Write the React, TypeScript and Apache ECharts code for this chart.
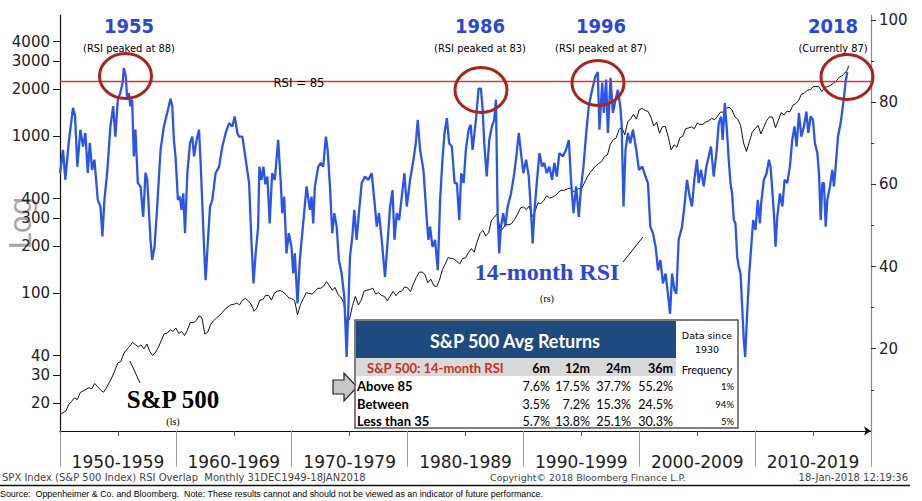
import React, { useEffect, useRef } from 'react';
import * as echarts from 'echarts';

// ---------- Data ----------
const DECADE_LABELS = ['1950-1959', '1960-1969', '1970-1979', '1980-1989', '1990-1999', '2000-2009', '2010-2019'];
const DECADE_CENTERS = [1955, 1965, 1975, 1985, 1995, 2005, 2015];
const DECADE_BOUNDS = [1950, 1960, 1970, 1980, 1990, 2000, 2010, 2020];
const LEFT_TICKS = [20, 30, 40, 100, 200, 300, 400, 1000, 2000, 3000, 4000];
const RIGHT_TICKS = [20, 40, 60, 80, 100];
const RIGHT_MINOR_TICKS = [10, 30, 50, 70, 90];
const RSI_THRESHOLD = 85;

// S&P 500 quarterly closes (start of decade, step 0.25 yr)
const SPX_1950S = [16.76, 17.29, 17.69, 19.45, 20.41, 21.48, 20.96, 23.26, 23.77, 24.37, 24.96, 24.54, 26.57, 25.29, 24.14, 23.35, 24.81, 26.94, 29.21, 32.31, 35.98, 36.58, 41.03, 43.67, 45.48, 48.48, 46.97, 45.35, 46.67, 44.11, 47.37, 42.42, 39.99, 42.10, 45.24, 50.06, 55.21, 55.44, 58.47, 56.88];
const SPX_1960S = [59.89, 55.34, 56.92, 53.52, 58.11, 65.06, 64.64, 66.73, 71.55, 69.55, 54.75, 56.27, 63.10, 66.57, 69.37, 71.70, 75.02, 78.98, 81.69, 84.18, 84.75, 86.16, 84.12, 89.96, 92.43, 89.23, 84.74, 76.56, 80.33, 90.20, 90.64, 96.71, 96.47, 90.20, 99.58, 102.67, 103.86, 101.51, 97.71, 93.12];
const SPX_1970S = [92.06, 89.63, 72.72, 84.21, 92.15, 100.31, 99.70, 98.34, 102.09, 107.20, 107.14, 110.55, 118.05, 111.52, 104.26, 108.43, 97.55, 93.98, 86.00, 63.54, 68.56, 83.36, 95.19, 83.87, 90.19, 102.77, 104.28, 105.24, 107.46, 98.42, 100.48, 96.53, 95.10, 89.21, 95.53, 102.54, 96.11, 101.59, 102.91, 109.32];
const SPX_1980S = [107.94, 102.09, 114.24, 125.46, 135.76, 136.00, 131.21, 116.18, 122.55, 111.96, 109.61, 120.42, 140.64, 152.96, 168.11, 166.07, 164.93, 159.18, 153.18, 166.10, 167.24, 180.66, 191.85, 182.08, 211.28, 238.90, 250.84, 231.32, 242.17, 291.70, 304.00, 321.83, 247.08, 258.89, 273.50, 271.91, 277.72, 294.87, 317.98, 349.15];
const SPX_1990S = [353.40, 339.94, 358.02, 306.05, 330.22, 375.22, 371.16, 387.86, 417.09, 403.69, 408.14, 417.80, 435.71, 451.67, 450.53, 458.93, 466.45, 445.77, 444.27, 462.69, 459.27, 500.71, 544.75, 584.41, 615.93, 645.50, 670.63, 687.33, 740.74, 757.12, 885.14, 947.28, 970.43, 1101.75, 1133.84, 1017.01, 1229.23, 1286.37, 1372.71, 1282.71];
const SPX_2000S = [1469.25, 1498.58, 1454.60, 1436.51, 1320.28, 1160.33, 1224.42, 1040.94, 1148.08, 1147.39, 989.82, 815.28, 879.82, 848.18, 974.50, 995.97, 1111.92, 1126.21, 1140.84, 1114.58, 1211.92, 1180.59, 1191.33, 1228.81, 1248.29, 1294.83, 1270.20, 1335.85, 1418.30, 1420.86, 1503.35, 1526.75, 1468.36, 1322.70, 1280.00, 1166.36, 903.25, 797.87, 919.32, 1057.08];
const SPX_2010S = [1115.10, 1169.43, 1030.71, 1141.20, 1257.64, 1325.83, 1320.64, 1131.42, 1257.60, 1408.47, 1362.16, 1440.67, 1426.19, 1569.19, 1606.28, 1681.55, 1848.36, 1872.34, 1960.23, 1972.29, 2058.90, 2067.89, 2063.11, 1920.03, 2043.94, 2059.74, 2098.86, 2168.27, 2238.83, 2362.72, 2423.41, 2519.36, 2673.61];
const SPX_LAST: [number, number] = [2018.05, 2798];

// 14-month RSI [year, value]
const RSI_1950S: [number, number][] = [[1950.0,62.7],[1950.26,68.4],[1950.46,61.1],[1950.75,70.1],[1951.12,78.6],[1951.3,76.6],[1951.5,64.3],[1951.76,73.3],[1951.99,69.2],[1952.19,72.5],[1952.4,62.8],[1952.57,70.1],[1952.77,63.5],[1952.97,66],[1953.26,56.2],[1953.49,54.6],[1953.66,47.3],[1953.83,56.2],[1954.07,62.8],[1954.35,74.1],[1954.59,79],[1954.78,71.6],[1954.99,80.6],[1955.2,82.2],[1955.4,84.6],[1955.51,88.3],[1955.68,86.3],[1955.8,80.6],[1955.94,82.2],[1956.08,79],[1956.23,80.6],[1956.37,66.8],[1956.51,73.3],[1956.72,60.3],[1956.95,59.5],[1957.18,52.1],[1957.38,62.8],[1957.53,61.1],[1957.81,46.5],[1957.96,41.6],[1958.16,44.8],[1958.39,54.6],[1958.68,68.4],[1958.97,74.1],[1959.26,77.4],[1959.54,80.8],[1959.69,79],[1959.83,70.8],[1959.97,66.8]];
const RSI_1960S: [number, number][] = [[1960.18,56.2],[1960.35,57],[1960.49,53.8],[1960.64,57.8],[1960.79,48.1],[1960.99,62.7],[1961.22,70],[1961.42,71.6],[1961.57,66.8],[1961.79,70.8],[1962.0,73.3],[1962.14,65.2],[1962.43,44.8],[1962.57,36.7],[1962.72,44],[1962.95,54.6],[1963.15,56.2],[1963.43,62.7],[1963.73,64.3],[1964.01,69.2],[1964.3,72.5],[1964.59,74.9],[1964.88,74.1],[1965.08,76.5],[1965.31,72.5],[1965.46,71.6],[1965.74,71.6],[1966.03,66],[1966.32,60.3],[1966.52,46.5],[1966.7,35.9],[1966.89,43.2],[1967.1,49.7],[1967.21,64.3],[1967.39,61.1],[1967.56,64.3],[1967.72,60],[1967.9,61.9],[1968.1,50.5],[1968.31,62.7],[1968.54,61.1],[1968.83,70.8],[1969.06,60.3],[1969.18,53],[1969.35,57],[1969.55,43.2],[1969.75,48.1],[1969.98,44.8]];
const RSI_1970S: [number, number][] = [[1970.13,38.3],[1970.27,43.2],[1970.5,31],[1970.7,41.6],[1970.99,50.5],[1971.28,59.5],[1971.57,53.8],[1971.71,57],[1971.86,50.5],[1972.0,59.5],[1972.29,64.3],[1972.52,65.2],[1972.72,64.3],[1972.95,71.6],[1973.1,68.4],[1973.3,59.5],[1973.5,48.1],[1973.68,53],[1973.88,49.7],[1974.07,41.6],[1974.31,38.3],[1974.54,32.6],[1974.74,18],[1974.89,30.2],[1975.03,42.4],[1975.23,47.3],[1975.4,53.8],[1975.6,46.5],[1975.8,53],[1976.04,60.3],[1976.32,61.9],[1976.62,61.1],[1976.9,62.7],[1977.13,56.2],[1977.34,49.7],[1977.53,53],[1977.77,46.5],[1978.05,37.5],[1978.29,46.5],[1978.49,54.6],[1978.7,58.6],[1978.87,46.5],[1979.07,53],[1979.27,51.3],[1979.5,57],[1979.73,62.7],[1979.93,54.6]];
const RSI_1980S: [number, number][] = [[1980.22,61.1],[1980.51,66],[1980.71,70],[1980.88,75.7],[1981.08,68.4],[1981.37,63.5],[1981.66,51.3],[1981.8,46.5],[1981.94,49.7],[1982.15,44.8],[1982.37,46.5],[1982.61,39.1],[1982.81,56.2],[1983.01,66],[1983.19,72.5],[1983.39,76.1],[1983.59,70],[1983.82,69.2],[1984.06,60.3],[1984.26,60.3],[1984.46,51.3],[1984.63,62.7],[1984.84,60.3],[1985.03,68.4],[1985.27,73.3],[1985.45,74.5],[1985.61,68.4],[1985.9,75.7],[1986.13,83.3],[1986.33,83.3],[1986.48,78.2],[1986.62,70],[1986.83,61.9],[1987.05,70.8],[1987.28,74.1],[1987.48,75.7],[1987.63,80.6],[1987.77,53],[1987.91,43.2],[1988.06,49.7],[1988.26,53],[1988.43,49.7],[1988.64,54.6],[1988.93,57.8],[1989.21,62.7],[1989.42,67.6],[1989.6,72.5],[1989.79,67.6],[1989.99,62.7]];
const RSI_1990S: [number, number][] = [[1990.23,66],[1990.46,61.9],[1990.66,53],[1990.8,45.6],[1990.94,53],[1991.15,60.3],[1991.38,67.6],[1991.61,64.3],[1991.81,65.2],[1992.01,62.7],[1992.24,64.3],[1992.47,61.1],[1992.67,65.2],[1992.88,61.9],[1993.1,67.6],[1993.4,66.8],[1993.68,68.4],[1993.92,70.8],[1994.12,60.3],[1994.32,53],[1994.55,59.5],[1994.78,52.1],[1994.98,59.5],[1995.18,64.3],[1995.42,72.5],[1995.64,79],[1995.93,83],[1996.22,86.3],[1996.42,87.3],[1996.56,73.3],[1996.8,84.7],[1996.94,77.4],[1997.14,85.5],[1997.29,72.5],[1997.52,85.9],[1997.72,77.4],[1997.95,80.6],[1998.15,83],[1998.36,79],[1998.47,74.9],[1998.64,54.6],[1998.81,68.4],[1999.02,72.5],[1999.22,70],[1999.45,73.3],[1999.74,68.4],[1999.97,63.5]];
const RSI_2000S: [number, number][] = [[2000.26,64.3],[2000.54,61.9],[2000.75,60.3],[2000.95,49.7],[2001.18,48.1],[2001.41,44.8],[2001.62,39.1],[2001.82,41.6],[2002.04,35.9],[2002.27,38.3],[2002.47,33.4],[2002.66,28.5],[2002.83,38.3],[2003.03,34.3],[2003.2,33.4],[2003.4,46.5],[2003.69,49.7],[2003.89,54.6],[2004.12,61.1],[2004.35,57],[2004.55,54.6],[2004.75,61.1],[2004.98,66],[2005.12,60.3],[2005.33,63.5],[2005.56,59.5],[2005.79,64.3],[2005.99,66.8],[2006.19,69.2],[2006.42,61.9],[2006.66,67.6],[2006.86,74.9],[2007.06,76.5],[2007.2,70.8],[2007.38,79.8],[2007.58,72.5],[2007.72,66],[2007.87,60.3],[2008.01,57.8],[2008.16,51.3],[2008.3,50.5],[2008.45,42.4],[2008.59,39.9],[2008.74,38.3],[2008.88,30.2],[2009.02,22.1],[2009.14,18],[2009.31,28.6],[2009.49,38.3],[2009.66,44.8],[2009.83,51.3]];
const RSI_2010S: [number, number][] = [[2010.03,48.9],[2010.23,56.2],[2010.41,50.5],[2010.52,55.4],[2010.75,61.1],[2010.99,62.7],[2011.19,66],[2011.33,64.3],[2011.48,58.6],[2011.62,53],[2011.76,44.8],[2011.91,52.1],[2012.14,57.8],[2012.35,54.6],[2012.54,61.1],[2012.77,60.3],[2013.0,64.3],[2013.2,70.8],[2013.4,74.1],[2013.58,69.2],[2013.78,77.4],[2013.99,71.6],[2014.21,74.1],[2014.42,77.7],[2014.59,72.5],[2014.79,76.5],[2014.99,75.7],[2015.16,70],[2015.37,67.6],[2015.51,62.7],[2015.66,51.3],[2015.8,60.3],[2015.94,60.3],[2016.09,49.7],[2016.23,56.2],[2016.46,59.5],[2016.66,63.5],[2016.8,59.5],[2016.95,64.3],[2017.15,71.6],[2017.38,74.9],[2017.61,79.8],[2017.8,84.7],[2017.95,87.4]];

// Table
const TABLE_TITLE = 'S&P 500 Avg Returns';
const TABLE_SUBTITLE = 'S&P 500: 14-month RSI';
const TABLE_COLS = ['6m', '12m', '24m', '36m'];
const TABLE_ROWS = ['Above 85', 'Between', 'Less than 35'];
const ROW_ABOVE = ['7.6%', '17.5%', '37.7%', '55.2%'];
const ROW_BETWEEN = ['3.5%', '7.2%', '15.3%', '24.5%'];
const ROW_BELOW = ['5.7%', '13.8%', '25.1%', '30.3%'];
const FREQUENCY = ['1%', '94%', '5%'];

// Annotations
const PEAK_YEARS = ['1955', '1986', '1996', '2018'];
const PEAK_NOTES = ['(RSI peaked at 88)', '(RSI peaked at 83)', '(RSI peaked at 87)', '(Currently 87)'];

// ---------- Build ----------
const toPairs = (start: number, vals: number[]) => vals.map((v, i) => [start + i * 0.25, v]);
const spxData = [
  ...toPairs(1950, SPX_1950S), ...toPairs(1960, SPX_1960S), ...toPairs(1970, SPX_1970S),
  ...toPairs(1980, SPX_1980S), ...toPairs(1990, SPX_1990S), ...toPairs(2000, SPX_2000S),
  ...toPairs(2010, SPX_2010S), SPX_LAST,
];
const rsiData = [...RSI_1950S, ...RSI_1960S, ...RSI_1970S, ...RSI_1980S, ...RSI_1990S, ...RSI_2000S, ...RSI_2010S];

const NARROW = "'Liberation Sans Narrow', 'DejaVu Sans Condensed', sans-serif";
const TBL = "Lato, 'Open Sans', sans-serif";
const RED_LINE = '#e0312b';

const txt = (x: number, y: number, text: string, o: any = {}) => ({
  type: 'text', x, y, z: 100, silent: true, rotation: o.rotation || 0,
  style: {
    text, fill: o.fill || '#000', fontSize: o.size || 12, fontFamily: o.family || 'DejaVu Sans',
    fontWeight: o.weight || 'normal', align: o.align || 'left', textAlign: o.align || 'left',
    verticalAlign: 'middle', textVerticalAlign: 'middle',
  },
});

function buildGraphics() {
  const g: any[] = [];
  const BLUE = '#2a47d8';
  const RED = '#a8241c';
  // "Log" label
  g.push({ ...txt(20, 223, 'Log', { size: 30, fill: '#a8a8a8', align: 'center', rotation: Math.PI / 2 }), z: 0 });
  // peak annotations
  const cx = [129, 480, 601, 833];
  PEAK_YEARS.forEach((y, i) => {
    g.push(txt(cx[i], 26, y, { size: 20, weight: 'bold', fill: BLUE, family: NARROW, align: 'center' }));
    g.push(txt(cx[i], 48, PEAK_NOTES[i], { size: 11, family: NARROW, align: 'center' }));
  });
  const ell = [[125.5, 76], [481, 90], [598, 83], [847, 77]];
  ell.forEach(([x, y]) => g.push({ type: 'ellipse', z: 90, silent: true, shape: { cx: x, cy: y, rx: 26, ry: 22.5 }, style: { fill: 'none', stroke: RED, lineWidth: 3 } }));
  g.push(txt(299, 82, 'RSI = 85', { size: 13, family: NARROW, align: 'center' }));
  // series labels
  g.push(txt(547, 272, '14-month RSI', { size: 24, weight: 'bold', family: "'Liberation Serif', serif", fill: '#2a47d8', align: 'center' }));
  g.push(txt(547, 298, '(rs)', { size: 10, family: "'Liberation Serif', serif", align: 'center' }));
  g.push({ type: 'line', z: 100, silent: true, shape: { x1: 623, y1: 262, x2: 643, y2: 237 }, style: { stroke: '#111', lineWidth: 1 } });
  g.push(txt(173, 399, 'S&P 500', { size: 25, weight: 'bold', family: "'Liberation Serif', serif", align: 'center' }));
  g.push(txt(173, 421, '(ls)', { size: 10, family: "'Liberation Serif', serif", align: 'center' }));
  g.push({ type: 'line', z: 100, silent: true, shape: { x1: 130, y1: 361, x2: 140, y2: 383 }, style: { stroke: '#111', lineWidth: 1 } });
  // arrow
  g.push({ type: 'polygon', z: 100, silent: true, shape: { points: [[333, 380], [344, 380], [344, 373], [357, 387], [344, 401], [344, 394], [333, 394]] }, style: { fill: '#c9c9c9', stroke: '#222', lineWidth: 1.2 } });
  // table
  g.push({ type: 'rect', z: 100, silent: true, shape: { x: 355, y: 320, width: 383, height: 108 }, style: { fill: '#fff', stroke: '#555', lineWidth: 1.5 } });
  g.push({ type: 'rect', z: 101, silent: true, shape: { x: 356, y: 321, width: 320, height: 37 }, style: { fill: '#1f4a7e' } });
  g.push({ type: 'rect', z: 101, silent: true, shape: { x: 356, y: 358, width: 320, height: 18 }, style: { fill: '#d9d9d9' } });
  const tz = (o: any) => ({ ...o, z: 102 });
  g.push(tz(txt(515, 341, TABLE_TITLE, { size: 18, weight: 'bold', fill: '#fff', family: TBL, align: 'center' })));
  g.push(tz(txt(707, 335, 'Data since', { size: 9.5, family: 'DejaVu Sans', align: 'center' })));
  g.push(tz(txt(707, 349, '1930', { size: 9.5, family: 'DejaVu Sans', align: 'center' })));
  g.push(tz(txt(367, 368, TABLE_SUBTITLE, { size: 13, weight: 'bold', fill: '#c4302b', family: TBL })));
  const colX = [550, 590, 631, 673];
  TABLE_COLS.forEach((c, i) => g.push(tz(txt(colX[i], 368, c, { size: 12.5, weight: 'bold', family: TBL, align: 'right' }))));
  g.push(tz(txt(707, 369, 'Frequency', { size: 11, family: TBL, align: 'center' })));
  const rowY = [386, 404, 421];
  const rows = [ROW_ABOVE, ROW_BETWEEN, ROW_BELOW];
  TABLE_ROWS.forEach((r, j) => {
    g.push(tz(txt(357, rowY[j], r, { size: 13, weight: 'bold', family: TBL })));
    rows[j].forEach((v, i) => g.push(tz(txt(colX[i], rowY[j], v, { size: 12.5, family: TBL, align: 'right' }))));
    g.push(tz(txt(734, rowY[j], FREQUENCY[j], { size: 9.5, family: TBL, align: 'right' })));
  });
  // footer
  g.push(txt(2, 477, 'SPX Index (S&P 500 Index) RSI Overlap  Monthly 31DEC1949-18JAN2018', { size: 10, fill: '#444' }));
  g.push(txt(490, 477, 'Copyright\u00a9 2018 Bloomberg Finance L.P.', { size: 9.5, fill: '#444' }));
  g.push(txt(908, 477, '18-Jan-2018 12:19:36', { size: 10, fill: '#444', align: 'right' }));
  g.push({ type: 'line', z: 100, silent: true, shape: { x1: 0, y1: 485.5, x2: 910, y2: 485.5 }, style: { stroke: '#111', lineWidth: 1.3 } });
  g.push(txt(0, 494, 'Source:  Oppenheimer & Co. and Bloomberg.  Note: These results cannot and should not be viewed as an indicator of future performance.', { size: 8.9, family: "'Liberation Sans', Arial, sans-serif" }));
  return g;
}

const option: any = {
  animation: false,
  backgroundColor: '#fff',
  grid: { left: 60, right: 51, top: 15, bottom: 67, containLabel: false },
  xAxis: {
    type: 'value', min: 1950, max: 2020, interval: 10,
    axisLine: { show: true, lineStyle: { color: '#111', width: 1.2 }, symbol: ['none', 'arrow'], symbolSize: [7, 7] },
    axisTick: { show: true, customValues: DECADE_BOUNDS, length: 36, lineStyle: { color: '#9a9a9a', width: 1 } },
    minorTick: { show: true, splitNumber: 2, length: 5, lineStyle: { color: '#555' } },
    axisLabel: {
      customValues: DECADE_CENTERS, margin: 19, fontSize: 17, color: '#222', fontFamily: 'DejaVu Sans',
      formatter: (v: number) => DECADE_LABELS[Math.round((v - 1955) / 10)] || '',
    },
    splitLine: { show: false },
  },
  yAxis: [
    {
      type: 'log', logBase: 10, min: 12.65, max: 5900, position: 'left',
      axisLine: { show: true, lineStyle: { color: '#111', width: 1.2 } },
      axisTick: { show: true, customValues: LEFT_TICKS, length: 7, lineStyle: { color: '#111' } },
      axisLabel: {
        customValues: LEFT_TICKS, fontSize: 15, color: '#222', fontFamily: 'DejaVu Sans', margin: 10,
        formatter: (v: number) => String(Math.round(v)),
      },
      splitLine: { show: false }, minorTick: { show: false },
    },
    {
      type: 'value', min: -0.75, max: 101.2, position: 'right',
      axisLine: { show: true, lineStyle: { color: '#888', width: 1.2 } },
      axisTick: { show: true, customValues: RIGHT_TICKS, length: 5, lineStyle: { color: '#333' } },
      axisLabel: { customValues: RIGHT_TICKS, fontSize: 15, color: '#222', fontFamily: 'DejaVu Sans', margin: 8 },
      splitLine: { show: false },
    },
    {
      type: 'value', min: -0.75, max: 101.2, position: 'right',
      axisLine: { show: false },
      axisTick: { show: true, customValues: RIGHT_MINOR_TICKS, length: 3, lineStyle: { color: '#333' } },
      axisLabel: { show: false, customValues: RIGHT_MINOR_TICKS },
      splitLine: { show: false },
    },
  ],
  series: [
    {
      type: 'line', name: 'S&P 500', data: spxData, yAxisIndex: 0, symbol: 'none', z: 2,
      lineStyle: { color: '#111', width: 1 },
    },
    {
      type: 'line', name: '14-month RSI', data: rsiData, yAxisIndex: 1, symbol: 'none', z: 3,
      lineStyle: { color: '#2b55e8', width: 2.3 },
      markLine: {
        silent: true, symbol: ['none', 'none'], label: { show: false },
        itemStyle: { color: RED_LINE },
        lineStyle: { color: RED_LINE, width: 1.3, type: 'solid', opacity: 1 },
        emphasis: { disabled: true },
        data: [{ yAxis: RSI_THRESHOLD, lineStyle: { color: RED_LINE, width: 1.3, type: 'solid' } }],
      },
    },
  ],
  graphic: { elements: buildGraphics() },
};

export default function App() {
  const ref = useRef<HTMLDivElement>(null);
  useEffect(() => {
    document.body.style.margin = '0';
    const chart = echarts.init(ref.current!, null, { renderer: 'svg' });
    chart.setOption(option);
    return () => chart.dispose();
  }, []);
  return <div ref={ref} style={{ position: 'fixed', left: 0, top: 0, width: 922, height: 501, background: '#fff' }} />;
}
